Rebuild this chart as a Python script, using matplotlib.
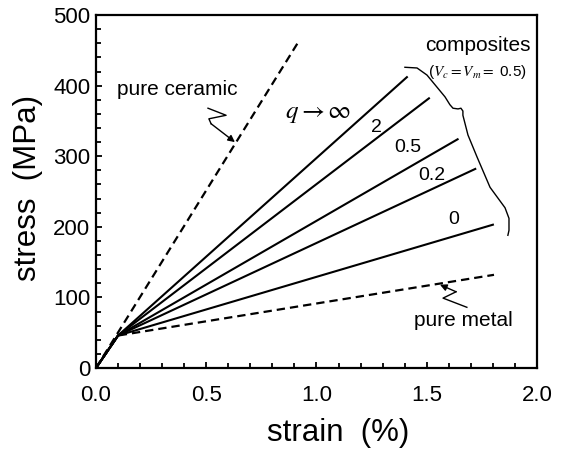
import matplotlib
matplotlib.use("Agg")
from matplotlib import pyplot as plt
from matplotlib.ticker import MultipleLocator

plt.rcParams['font.family'] = ['Liberation Sans', 'DejaVu Sans']
plt.rcParams['mathtext.fontset'] = 'stix'
plt.rcParams['lines.scale_dashes'] = False

# stress-strain curves (strain in %, stress in MPa)
ceramic_x = [0.0, 0.92]
ceramic_y = [0.0, 463]

metal_x = [0.0, 0.1, 1.805]
metal_y = [0.0, 46, 132]

q_labels = ['q_inf', '2', '0.5', '0.2', '0']
comp_x = {
    'q_inf': [0.0, 0.1, 1.41],
    '2': [0.0, 0.1, 1.51],
    '0.5': [0.0, 0.1, 1.64],
    '0.2': [0.0, 0.1, 1.72],
    '0': [0.0, 0.1, 1.80],
}
comp_y = {
    'q_inf': [0.0, 46, 412],
    '2': [0.0, 46, 382],
    '0.5': [0.0, 46, 324],
    '0.2': [0.0, 46, 282],
    '0': [0.0, 46, 203],
}
# where the q values are written
q_text = ['$q \\rightarrow \\infty$', '2', '0.5', '0.2', '0']
q_text_x = [1.007, 1.274, 1.415, 1.524, 1.62]
q_text_y = [361, 341, 313, 272, 210]

# hand drawn brace grouping the composites
brace_x = [1.401, 1.456, 1.501, 1.546, 1.583, 1.605, 1.619, 1.642, 1.655, 1.664, 1.664,
           1.687, 1.728, 1.787, 1.855, 1.873, 1.873, 1.868]
brace_y = [426, 425, 415, 398, 384, 373, 368, 367, 368, 364, 358,
           330, 299, 256, 227, 212, 195, 188]

# squiggly pointers
cer_sq_x = [0.508, 0.590, 0.512, 0.522]
cer_sq_y = [368, 358, 353, 346]
cer_tip = (0.63, 320)
met_sq_x = [1.682, 1.574, 1.633]
met_sq_y = [86, 99, 108]
met_tip = (1.56, 118)

fig = plt.figure(figsize=(5.63, 4.5), dpi=100)
ax = fig.add_axes([0.1705, 0.1822, 0.7833, 0.7844])

ax.plot(ceramic_x, ceramic_y, color='black', lw=1.6, dashes=(6, 3.6))
ax.plot(metal_x, metal_y, color='black', lw=1.6, dashes=(6, 3.6))
for k in q_labels:
    ax.plot(comp_x[k], comp_y[k], color='black', lw=1.5)

for t, x, y in zip(q_text, q_text_x, q_text_y):
    fs = 18 if t.startswith('$') else 14
    ax.text(x, y, t, ha='center', va='center', fontsize=fs)

ax.plot(brace_x, brace_y, color='black', lw=1.0)

ax.plot(cer_sq_x, cer_sq_y, color='black', lw=1.0)
ax.annotate('', xy=cer_tip, xytext=(cer_sq_x[-1], cer_sq_y[-1]),
            arrowprops=dict(arrowstyle='-|>', color='black', lw=1.0, mutation_scale=10,
                            shrinkA=0, shrinkB=0))
ax.plot(met_sq_x, met_sq_y, color='black', lw=1.0)
ax.annotate('', xy=met_tip, xytext=(met_sq_x[-1], met_sq_y[-1]),
            arrowprops=dict(arrowstyle='-|>', color='black', lw=1.0, mutation_scale=10,
                            shrinkA=0, shrinkB=0))

ax.text(0.367, 394, 'pure ceramic', ha='center', va='center', fontsize=15)
ax.text(1.665, 68, 'pure metal', ha='center', va='center', fontsize=15)
ax.text(1.733, 457, 'composites', ha='center', va='center', fontsize=15)
ax.text(1.728, 419, '($V_c = V_m =$ 0.5)', ha='center', va='center', fontsize=11)

ax.set_xlim(0, 2.0)
ax.set_ylim(0, 500)
ax.xaxis.set_major_locator(MultipleLocator(0.5))
ax.xaxis.set_minor_locator(MultipleLocator(0.1))
ax.yaxis.set_major_locator(MultipleLocator(100))
ax.yaxis.set_minor_locator(MultipleLocator(20))
ax.xaxis.set_major_formatter(matplotlib.ticker.FormatStrFormatter('%.1f'))

ax.tick_params(which='both', direction='in', top=False, right=False, width=1.3)
ax.tick_params(which='major', length=4, labelsize=16)
ax.tick_params(axis='x', which='major', pad=12)
ax.tick_params(axis='y', which='major', pad=4)
ax.tick_params(which='minor', length=3.5)
for s in ax.spines.values():
    s.set_linewidth(1.6)

ax.set_xlabel('strain  (%)', fontsize=22.5, va='center')
ax.xaxis.set_label_coords(0.549, -0.183)
ax.set_ylabel('stress  (MPa)', fontsize=22.5, va='center')
ax.yaxis.set_label_coords(-0.155, 0.51)

fig.savefig('out.png', dpi=100)
